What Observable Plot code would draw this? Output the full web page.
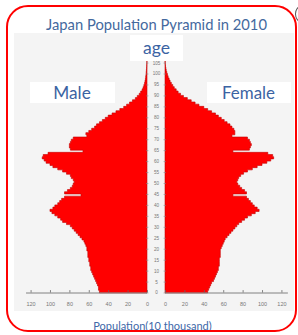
<!DOCTYPE html>
<html><head><meta charset="utf-8">
<script src="https://cdn.jsdelivr.net/npm/d3@7"></script>
<script src="https://cdn.jsdelivr.net/npm/@observablehq/plot@0.6"></script>
<style>
html,body{margin:0;padding:0;background:#fff;}
#wrap{position:relative;width:298px;height:335px;overflow:hidden;font-family:Lato,"Open Sans",sans-serif;}
#panel{position:absolute;left:14px;top:33px;width:280px;height:278px;background:#f4f4f4;}
#chart{position:absolute;left:0;top:0;}
.box{position:absolute;background:#fff;}
.lbl{position:absolute;white-space:nowrap;color:#3b63a3;transform:translate(-50%,-50%);line-height:1;}
#border{position:absolute;left:6px;top:5px;width:291px;height:327px;border:2.5px solid #f00;border-radius:22px;box-sizing:border-box;}
#arc{position:absolute;left:295px;top:6px;width:12px;height:16px;border:1.5px solid #555;border-radius:50%;box-sizing:border-box;}
</style></head>
<body>
<div id="wrap">
  <div id="panel"></div>
  <div id="chart"></div>
  <div class="box" style="left:130px;top:35px;width:53px;height:26px;"></div>
  <div class="box" style="left:30px;top:82px;width:85px;height:21px;"></div>
  <div class="box" style="left:207px;top:82px;width:84px;height:21px;"></div>
  <div class="lbl" id="t_title" data-w="221" style="left:156.5px;top:23.5px;color:#44699e;">Japan Population Pyramid in 2010</div>
  <div class="lbl" id="t_age" data-w="27" style="left:156.5px;top:48px;">age</div>
  <div class="lbl" id="t_male" data-w="37.5" style="left:72px;top:93px;">Male</div>
  <div class="lbl" id="t_female" data-w="53" style="left:248.5px;top:93px;">Female</div>
  <div class="lbl" id="t_foot" data-w="118.5" style="left:152.5px;top:324.5px;color:#4068a8;">Population(10 thousand)</div>
  <div id="border"></div>
  <div id="arc"></div>
</div>
<script>
// Ages 0..105, population in 10 thousand
const ages = d3.range(0, 106);
const male = [
  49,50,50,51,52,53,54,55,56,57,
  58,58,59,59,60,60,61,61,61,62,
  62,63,64,65,67,69,71,73,75,77,
  79,83,87,89,92,95,98,100,97,95,
  92,90,88,85,68,85,82,79,77,76,
  75,76,78,79,83,87,92,97,100,104,
  106,108,107,102,66,79,80,80,79,78,
  76,62,63,60,57,54,52,49,46,43,
  40,36,32,28,24,21,18,15,12,10,
  8,6.5,5,4,3.2,2.5,2,1.6,1.3,1,
  0.8,0.6,0.4,0.3,0.2,0.1
];
const female = [
  44,45,46,47,48,50,51,52,53,54,
  55,55,56,56,56,56,57,57,57,57,
  58,59,60,61,62,64,66,68,70,72,
  74,76,79,82,85,89,93,97,95,92,
  90,88,86,84,70,84,82,79,77,75,
  74,75,76,78,81,85,90,95,100,105,
  109,112,111,106,70,87,88,89,88,87,
  85,69,72,72,71,69,67,64,61,58,
  55,52,48,44,40,35,31,27,23,19,
  16,13.5,11.5,9.5,8,6.5,5.2,4.2,3.2,2.5,
  1.8,1.2,0.8,0.5,0.3,0.2
];
const ageTicks = d3.range(0, 106, 5);
const popTicks = [0, 20, 40, 60, 80, 100, 120];

const G = 9.3; // half-width of the central age column (in population units)
const maleArea = ages.map((a, i) => ({age: a, x1: -G, x2: -G - male[i]})).concat([{age: 106, x1: -G, x2: -G}]);
const femaleArea = ages.map((a, i) => ({age: a, x1: G, x2: G + female[i]})).concat([{age: 106, x1: G, x2: G}]);

const chart = Plot.plot({
  width: 298, height: 335,
  marginLeft: 20.2, marginRight: 6.2, marginTop: 51.6, marginBottom: 42.5,
  x: {domain: [-140, 140], axis: null},
  y: {domain: [0, 110], axis: null},
  style: {background: "transparent", overflow: "visible"},
  marks: [
    Plot.areaX(maleArea, {y: "age", x1: "x1", x2: "x2", curve: "step-before", fill: "#ff0000", stroke: "#c40000", strokeWidth: 0.6}),
    Plot.areaX(femaleArea, {y: "age", x1: "x1", x2: "x2", curve: "step-before", fill: "#ff0000", stroke: "#c40000", strokeWidth: 0.6}),
    Plot.ruleY([0], {x1: -134, x2: -G, stroke: "#666", strokeWidth: 0.8}),
    Plot.ruleY([0], {x1: G, x2: 136, stroke: "#666", strokeWidth: 0.8}),
    Plot.ruleX(popTicks, {x: d => -G - d, y1: 0, y2: 1.1, stroke: "#666", strokeWidth: 0.8}),
    Plot.ruleX(popTicks, {x: d => G + d, y1: 0, y2: 1.1, stroke: "#666", strokeWidth: 0.8}),
    Plot.ruleY(ageTicks, {y: d => d, x1: -G - 1, x2: -G + 1.5, stroke: "#888", strokeWidth: 0.6}),
    Plot.ruleY(ageTicks, {y: d => d, x1: G - 1.5, x2: G + 1, stroke: "#888", strokeWidth: 0.6}),
    Plot.text(ageTicks, {x: 0, y: d => d, text: d => String(d), fontSize: 4.6, fill: "#777", fontFamily: "Liberation Sans"}),
    Plot.text(popTicks, {x: d => -G - d, y: 0, dy: 11.5, text: d => String(d), fontSize: 5.5, fill: "#777", fontFamily: "Liberation Sans"}),
    Plot.text(popTicks, {x: d => G + d, y: 0, dy: 11.5, text: d => String(d), fontSize: 5.5, fill: "#777", fontFamily: "Liberation Sans"})
  ]
});
document.getElementById("chart").appendChild(chart);

// fit label font sizes to the reference text widths
document.querySelectorAll(".lbl").forEach(el => {
  el.style.fontSize = "100px";
  const w = el.getBoundingClientRect().width;
  el.style.fontSize = (100 * (+el.dataset.w) / w) + "px";
});
</script>
</body></html>
